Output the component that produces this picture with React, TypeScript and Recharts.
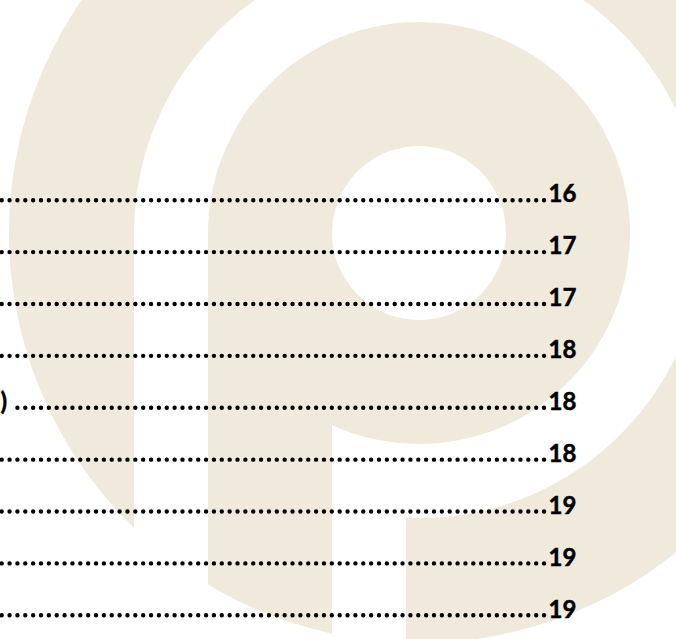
import { Bar, BarChart, Customized, XAxis, YAxis } from 'recharts'

// table-of-contents rows (titles are cut off on the left, only the tail shows)
const rowKeys = ['r1', 'r2', 'r3', 'r4', 'r5', 'r6', 'r7', 'r8', 'r9']
const pageNumbers = [16, 17, 17, 18, 18, 18, 19, 19, 19]
const titleTails = ['', '', '', '', ')', '', '', '', '']

const rows = rowKeys.map((key, i) => ({
  key,
  page: pageNumbers[i],
  tail: titleTails[i],
}))

const INK = '#000000'
const WATERMARK = '#F0EADD'
const DOT_STEP = 7.86
const FIRST_DOT = 1.7
const TAB_X = 545

function Watermark() {
  // concentric "P" logo behind the text
  const cx = 419
  const cy = 233
  const R = 410
  const r = 285
  const bowl = 211
  const hole = 87
  const at = (rad: number, x: number) => cy + Math.sqrt(rad * rad - (x - cx) * (x - cx))

  const leftCut = cx - r
  const rightCut = 406
  const ring = [
    `M ${leftCut} ${at(R, leftCut)}`,
    `L ${leftCut} ${cy}`,
    `A ${r} ${r} 0 1 1 ${rightCut} ${at(r, rightCut)}`,
    `L ${rightCut} ${at(R, rightCut)}`,
    `A ${R} ${R} 0 1 0 ${leftCut} ${at(R, leftCut)}`,
    'Z',
  ].join(' ')

  const stemL = cx - bowl
  const stemR = cx - hole
  const p = [
    `M ${stemL} ${at(R, stemL)}`,
    `L ${stemL} ${cy}`,
    `A ${bowl} ${bowl} 0 1 1 ${stemR} ${at(bowl, stemR)}`,
    `L ${stemR} ${at(R, stemR)}`,
    `A ${R} ${R} 0 0 1 ${stemL} ${at(R, stemL)}`,
    'Z',
    `M ${cx - hole} ${cy}`,
    `A ${hole} ${hole} 0 1 0 ${cx + hole} ${cy}`,
    `A ${hole} ${hole} 0 1 0 ${cx - hole} ${cy}`,
    'Z',
  ].join(' ')

  return (
    <g>
      <path d={ring} fill={WATERMARK} />
      <path d={p} fill={WATERMARK} fillRule="evenodd" />
    </g>
  )
}

function LeaderRow(props: any) {
  const { y, height } = props
  const entry = props.payload ?? props
  const mid = y + height / 2
  const start = entry.tail ? FIRST_DOT + 2 * DOT_STEP : FIRST_DOT
  const textStyle = {
    fontFamily: 'Lato, sans-serif',
    fontWeight: 700,
    fontSize: 24,
    fill: INK,
    stroke: INK,
    strokeWidth: 0.5,
  }
  return (
    <g>
      {entry.tail ? (
        <text x={7} y={mid + 2.2} textAnchor="end" style={textStyle}>
          {entry.tail}
        </text>
      ) : null}
      <line
        x1={start}
        x2={TAB_X}
        y1={mid}
        y2={mid}
        stroke={INK}
        strokeWidth={4.4}
        strokeLinecap="round"
        strokeDasharray={`0 ${DOT_STEP}`}
      />
      <text x={548.5} y={mid + 2.2} style={textStyle}>
        {entry.page}
      </text>
    </g>
  )
}

export default function App() {
  return (
    <div
      style={{
        position: 'absolute',
        left: 0,
        top: 0,
        width: 676,
        height: 639,
        overflow: 'hidden',
        background: '#ffffff',
      }}
    >
      <BarChart
        width={676}
        height={641}
        data={rows}
        layout="vertical"
        margin={{ top: 174, right: 0, bottom: 0, left: 0 }}
      >
        <Customized component={Watermark} />
        <XAxis type="number" dataKey="page" hide domain={[0, 'dataMax']} />
        <YAxis type="category" dataKey="key" hide />
        <Bar dataKey="page" shape={LeaderRow} isAnimationActive={false} />
      </BarChart>
    </div>
  )
}
